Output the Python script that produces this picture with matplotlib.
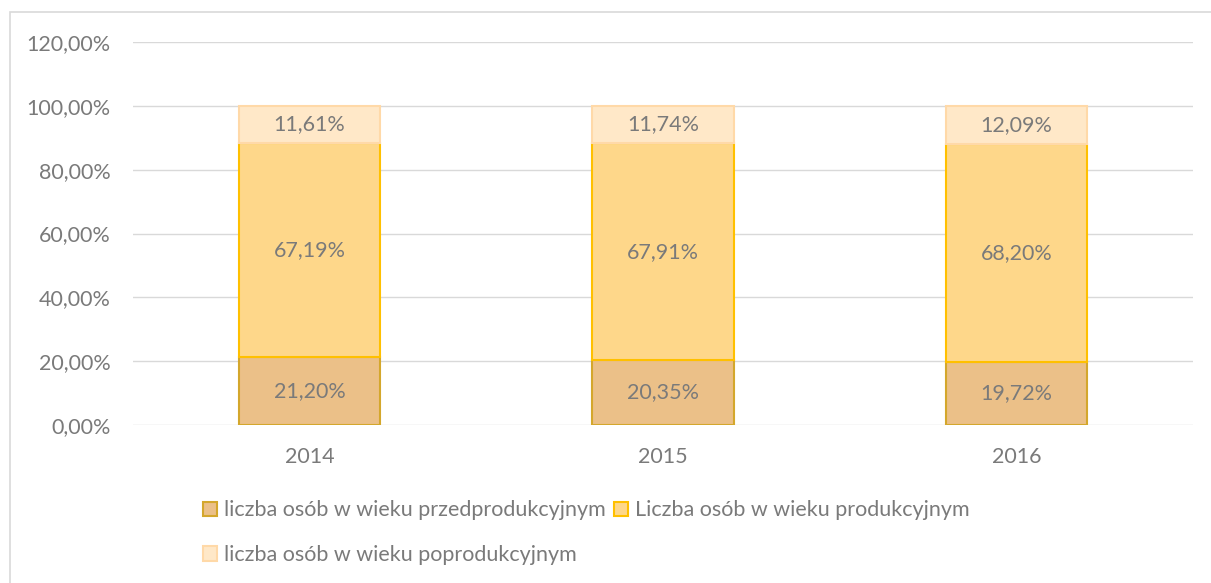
import matplotlib
matplotlib.use("Agg")
import matplotlib.pyplot as plt
from matplotlib.patches import Rectangle, Patch
from matplotlib.ticker import FuncFormatter, MultipleLocator

years = ["2014", "2015", "2016"]
przed = [21.20, 20.35, 19.72]
prod = [67.19, 67.91, 68.20]
poprod = [11.61, 11.74, 12.09]
labels = ["liczba osób w wieku przedprodukcyjnym",
          "Liczba osób w wieku produkcyjnym",
          "liczba osób w wieku poprodukcyjnym"]

plt.rcParams['font.family'] = ['Lato', 'DejaVu Sans']
txt = '#7a7a7a'
fs = 15.5

fig = plt.figure(figsize=(12.11, 5.83), dpi=100)
fig.patches.append(Rectangle((10/1211, -0.2), 1.2, 1.2 - 12/583, transform=fig.transFigure,
                             fill=False, edgecolor='#d9d9d9', linewidth=1.2, zorder=0))
ax = fig.add_axes([133/1211, 1 - 425/583, 1060/1211, 383/583])

x = range(len(years))
w = 0.40
face = ['#ebc088', '#fed78a', '#ffe8c8']
edge = ['#d4a72c', '#ffc000', '#ffd9a8']
series = [przed, prod, poprod]
bottom = [0, 0, 0]
for s, fc, ec, lab in zip(series, face, edge, labels):
    ax.bar(x, s, w, bottom=bottom, color=fc, edgecolor=ec, linewidth=1.5, label=lab, zorder=3)
    for xi, v, b in zip(x, s, bottom):
        ax.text(xi, b + v / 2, f"{v:.2f}%".replace('.', ','), ha='center', va='center',
                fontsize=fs, color=txt, zorder=4)
    bottom = [b + v for b, v in zip(bottom, s)]

ax.set_ylim(0, 120)
ax.set_xlim(-0.5, 2.5)
ax.yaxis.set_major_locator(MultipleLocator(20))
ax.yaxis.set_major_formatter(FuncFormatter(lambda v, p: f"{v:.2f}%".replace('.', ',')))
ax.set_xticks(list(x))
ax.set_xticklabels(years)
ax.grid(axis='y', color='#d9d9d9', linewidth=1, zorder=0)
ax.set_axisbelow(True)
for sp in ax.spines.values():
    sp.set_visible(False)
ax.tick_params(axis='both', length=0, labelsize=fs, colors=txt)
ax.tick_params(axis='y', pad=16)
ax.tick_params(axis='x', pad=16)

handles = [Patch(facecolor=fc, edgecolor=ec, linewidth=1.5) for fc, ec in zip(face, edge)]
order = [0, 2, 1]
leg = fig.legend([handles[i] for i in order], [labels[i] for i in order], ncol=2,
                 loc='upper left', bbox_to_anchor=(184/1211, 1 - 481/583), frameon=False,
                 fontsize=fs, labelcolor=txt, handlelength=0.65, handleheight=0.65,
                 handletextpad=0.3, columnspacing=0.4, labelspacing=1.15)

fig.savefig("out.png", dpi=100)
